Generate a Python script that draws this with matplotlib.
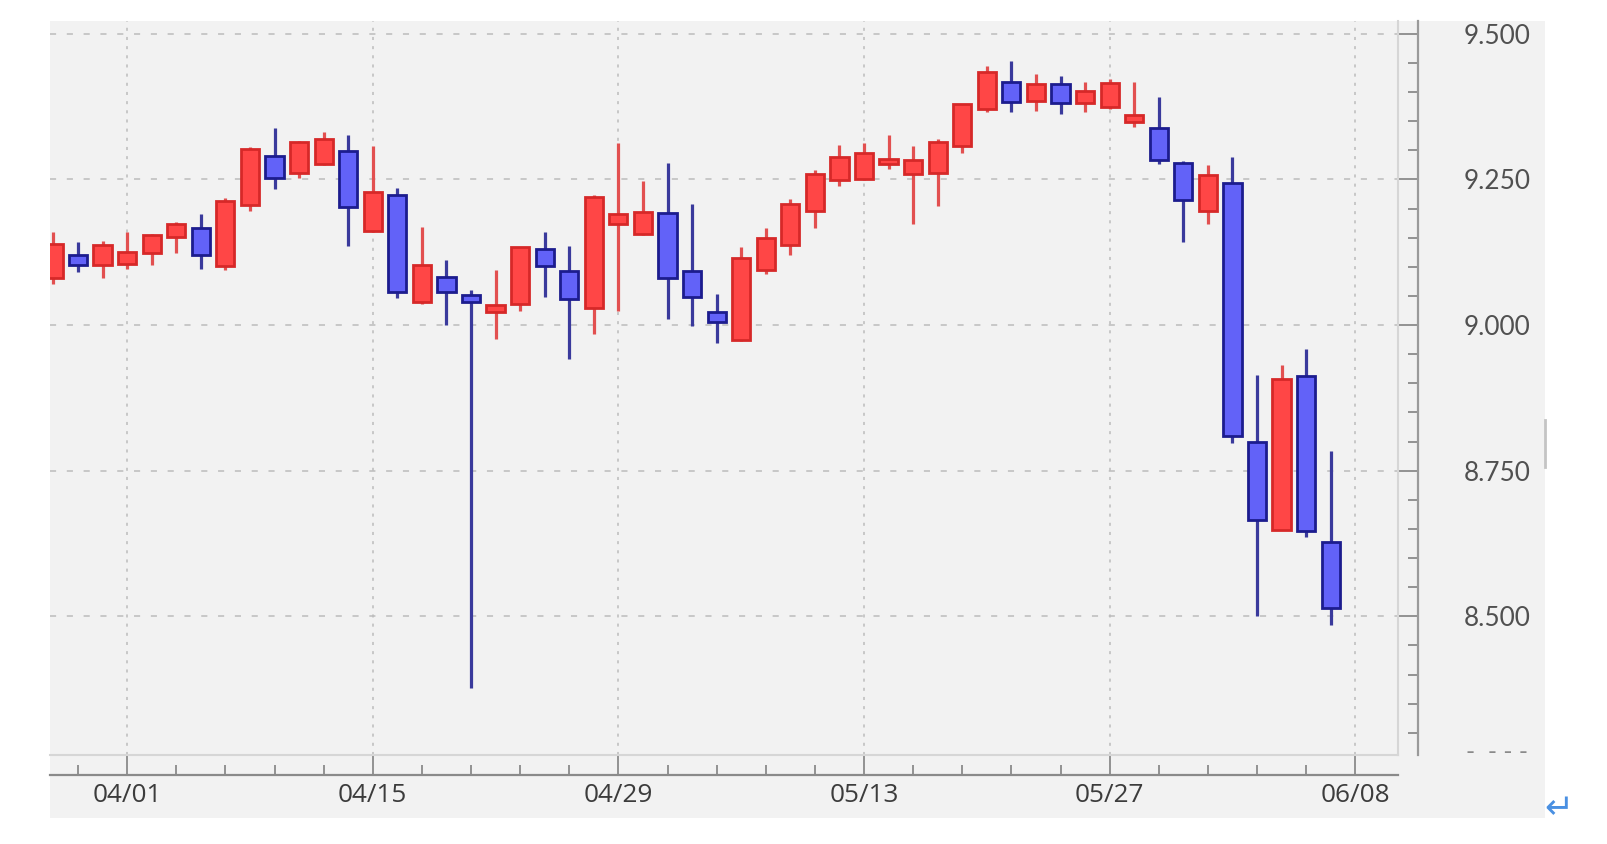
import numpy as np
import matplotlib
matplotlib.use("Agg")
import matplotlib.pyplot as plt
from matplotlib.patches import Rectangle
from matplotlib.lines import Line2D
from matplotlib.ticker import MultipleLocator, FixedLocator, FuncFormatter

# trading-day index, 0 = 04/01
idx = np.arange(-3, 50)

opens = [9.080, 9.120, 9.103, 9.105, 9.124, 9.152, 9.166, 9.101, 9.206, 9.291,
         9.261, 9.276, 9.299, 9.162, 9.223, 9.040, 9.083, 9.052, 9.023, 9.036,
         9.130, 9.092, 9.029, 9.174, 9.157, 9.193, 9.092, 9.023, 8.974, 9.094,
         9.137, 9.196, 9.249, 9.250, 9.276, 9.260, 9.261, 9.308, 9.371, 9.417,
         9.384, 9.414, 9.382, 9.374, 9.348, 9.338, 9.279, 9.196, 9.244, 8.800,
         8.649, 8.912, 8.628]
highs = [9.160, 9.143, 9.144, 9.160, 9.157, 9.177, 9.190, 9.218, 9.305, 9.338,
         9.316, 9.331, 9.326, 9.308, 9.235, 9.169, 9.111, 9.061, 9.094, 9.134,
         9.160, 9.135, 9.224, 9.312, 9.248, 9.279, 9.207, 9.053, 9.134, 9.167,
         9.217, 9.266, 9.309, 9.312, 9.327, 9.308, 9.320, 9.380, 9.445, 9.453,
         9.431, 9.427, 9.417, 9.423, 9.418, 9.391, 9.281, 9.274, 9.289, 8.915,
         8.932, 8.959, 8.784]
lows = [9.070, 9.091, 9.081, 9.097, 9.103, 9.123, 9.097, 9.094, 9.196, 9.233,
        9.252, 9.275, 9.135, 9.159, 9.047, 9.037, 9.001, 8.377, 8.976, 9.025,
        9.048, 8.942, 8.984, 9.025, 9.154, 9.010, 8.998, 8.969, 8.973, 9.088,
        9.121, 9.167, 9.239, 9.249, 9.268, 9.174, 9.204, 9.295, 9.366, 9.366,
        9.368, 9.362, 9.366, 9.371, 9.340, 9.276, 9.142, 9.174, 8.798, 8.500,
        8.648, 8.636, 8.486]
closes = [9.140, 9.103, 9.137, 9.126, 9.155, 9.174, 9.120, 9.213, 9.302, 9.253,
          9.315, 9.319, 9.203, 9.228, 9.056, 9.103, 9.057, 9.040, 9.034, 9.134,
          9.101, 9.044, 9.220, 9.190, 9.194, 9.081, 9.049, 9.005, 9.115, 9.150,
          9.207, 9.260, 9.289, 9.296, 9.285, 9.284, 9.314, 9.380, 9.435, 9.383,
          9.414, 9.382, 9.402, 9.415, 9.361, 9.283, 9.214, 9.257, 8.810, 8.665,
          8.908, 8.646, 8.514]

tick_pos = [0, 10, 20, 30, 40, 50]
tick_labels = ["04/01", "04/15", "04/29", "05/13", "05/27", "06/08"]

W, H = 1608, 844
fig = plt.figure(figsize=(W / 100, H / 100), dpi=100, facecolor="white")

# grey panel behind everything
fig.patches.append(Rectangle((50 / W, 1 - 818 / H), 1495 / W, 797 / H,
                             transform=fig.transFigure, facecolor="#f2f2f2",
                             edgecolor="none", zorder=-10))
fig.lines.append(Line2D([1545 / W, 1545 / W], [1 - 467 / H, 1 - 420 / H],
                        transform=fig.transFigure, color="#c4c4c4", lw=2))

ax = fig.add_axes([50 / W, 1 - 755 / H, 1348 / W, 734 / H])
ax.set_facecolor("#f2f2f2")

up_fill, up_edge, up_wick = "#ff4646", "#d62828", "#e25050"
dn_fill, dn_edge, dn_wick = "#6262f8", "#1c1c8e", "#3a3a9c"

for x, o, h, l, c in zip(idx, opens, highs, lows, closes):
    up = c >= o
    ax.vlines(x, l, h, colors=up_wick if up else dn_wick, lw=2.3, zorder=2)
    ax.bar(x, abs(c - o), bottom=min(o, c), width=0.74,
           color=up_fill if up else dn_fill,
           edgecolor=up_edge if up else dn_edge, lw=2.0, zorder=3)

ax.set_xlim(-3.14, 51.74)
ax.set_ylim(8.262, 9.522)

# axes styling
for s in ["top", "left"]:
    ax.spines[s].set_visible(False)
ax.spines["right"].set_position(("outward", 14.4))
ax.spines["bottom"].set_position(("outward", 14.4))
ax.spines["right"].set_color("#9a9a9a")
ax.spines["bottom"].set_color("#8a8a8a")
ax.spines["right"].set_linewidth(1.6)
ax.spines["bottom"].set_linewidth(1.6)
ax.plot([0, 1], [0, 0], transform=ax.transAxes, color="#d6d6d6", lw=1.5, clip_on=False)
ax.plot([1, 1], [0, 1], transform=ax.transAxes, color="#d6d6d6", lw=1.5, clip_on=False)

ax.yaxis.tick_right()
ax.yaxis.set_major_locator(MultipleLocator(0.25))
ax.yaxis.set_minor_locator(MultipleLocator(0.05))
ax.yaxis.set_major_formatter(FuncFormatter(lambda v, p: f"{v:.3f}"))
ax.tick_params(axis="y", which="major", direction="in", length=15, width=1.3,
               color="#8a8a8a", pad=33, labelsize=18.8, labelcolor="#505050")
ax.tick_params(axis="y", which="minor", direction="in", length=7.5, width=1.3,
               color="#8a8a8a")
for t in ax.get_yticklabels():
    t.set_family(["Lato", "DejaVu Sans"])

ax.xaxis.set_major_locator(FixedLocator(tick_pos))
ax.set_xticklabels(tick_labels)
ax.xaxis.set_minor_locator(MultipleLocator(2))
ax.tick_params(axis="x", which="major", direction="in", length=14.4, width=1.3,
               color="#8a8a8a", pad=6, labelsize=18.8, labelcolor="#3c3c3c")
ax.tick_params(axis="x", which="minor", direction="in", length=7.5, width=1.3,
               color="#8a8a8a")
for t in ax.get_xticklabels():
    t.set_family(["Open Sans", "DejaVu Sans"])

ax.grid(axis="y", which="major", color="#bcbcbc", lw=1.1, linestyle=(0, (4, 7)), zorder=0)
ax.grid(axis="x", which="major", color="#bcbcbc", lw=1.1, linestyle=(0, (2, 4)), zorder=0)
ax.set_axisbelow(True)

# clipped bottom label and the return mark
fig.text(1497 / W, 1 - 753 / H, "-  - - -", ha="center", va="center",
         fontsize=18, color="#8a8a8a", family="Lato")
fig.text(1559 / W, 1 - 808 / H, "\u21b5", ha="center", va="center",
         fontsize=25, color="#4a90e2", family="DejaVu Sans")

fig.savefig("out.png", dpi=100, facecolor="white")
